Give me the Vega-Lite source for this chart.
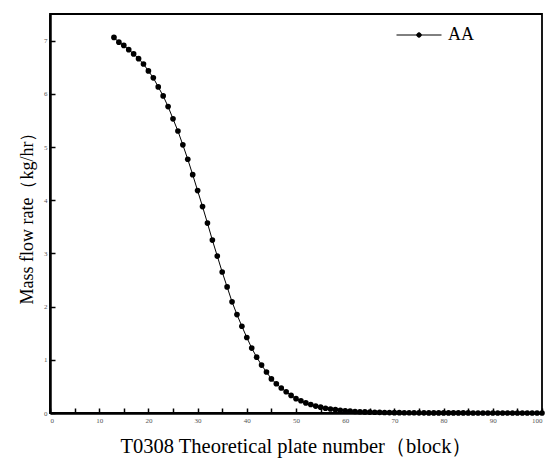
{
  "$schema": "https://vega.github.io/schema/vega-lite/v6.json",
  "width": 492,
  "height": 399,
  "autosize": {"type": "none"},
  "padding": {"left": 50, "top": 14, "right": 11, "bottom": 48},
  "background": "white",
  "config": {
    "font": "Liberation Serif",
    "view": {"stroke": "#000000", "strokeWidth": 1.8, "strokeOpacity": 1},
    "axis": {
      "grid": false,
      "labelColor": "#555555",
      "labelFont": "Liberation Serif",
      "labelFontSize": 7,
      "titleFont": "Liberation Serif",
      "titleFontWeight": "normal",
      "titleColor": "black",
      "titleFontSize": 18
    }
  },
  "data": {
    "values": [
      {"plate": 13, "flow": 7.06, "series": "AA"},
      {"plate": 14, "flow": 6.97, "series": "AA"},
      {"plate": 15, "flow": 6.91, "series": "AA"},
      {"plate": 16, "flow": 6.83, "series": "AA"},
      {"plate": 17, "flow": 6.75, "series": "AA"},
      {"plate": 18, "flow": 6.66, "series": "AA"},
      {"plate": 19, "flow": 6.56, "series": "AA"},
      {"plate": 20, "flow": 6.43, "series": "AA"},
      {"plate": 21, "flow": 6.30, "series": "AA"},
      {"plate": 22, "flow": 6.13, "series": "AA"},
      {"plate": 23, "flow": 5.96, "series": "AA"},
      {"plate": 24, "flow": 5.76, "series": "AA"},
      {"plate": 25, "flow": 5.53, "series": "AA"},
      {"plate": 26, "flow": 5.30, "series": "AA"},
      {"plate": 27, "flow": 5.04, "series": "AA"},
      {"plate": 28, "flow": 4.77, "series": "AA"},
      {"plate": 29, "flow": 4.48, "series": "AA"},
      {"plate": 30, "flow": 4.18, "series": "AA"},
      {"plate": 31, "flow": 3.88, "series": "AA"},
      {"plate": 32, "flow": 3.57, "series": "AA"},
      {"plate": 33, "flow": 3.25, "series": "AA"},
      {"plate": 34, "flow": 2.95, "series": "AA"},
      {"plate": 35, "flow": 2.65, "series": "AA"},
      {"plate": 36, "flow": 2.37, "series": "AA"},
      {"plate": 37, "flow": 2.09, "series": "AA"},
      {"plate": 38, "flow": 1.85, "series": "AA"},
      {"plate": 39, "flow": 1.63, "series": "AA"},
      {"plate": 40, "flow": 1.42, "series": "AA"},
      {"plate": 41, "flow": 1.22, "series": "AA"},
      {"plate": 42, "flow": 1.05, "series": "AA"},
      {"plate": 43, "flow": 0.90, "series": "AA"},
      {"plate": 44, "flow": 0.77, "series": "AA"},
      {"plate": 45, "flow": 0.64, "series": "AA"},
      {"plate": 46, "flow": 0.55, "series": "AA"},
      {"plate": 47, "flow": 0.47, "series": "AA"},
      {"plate": 48, "flow": 0.40, "series": "AA"},
      {"plate": 49, "flow": 0.33, "series": "AA"},
      {"plate": 50, "flow": 0.27, "series": "AA"},
      {"plate": 51, "flow": 0.23, "series": "AA"},
      {"plate": 52, "flow": 0.19, "series": "AA"},
      {"plate": 53, "flow": 0.16, "series": "AA"},
      {"plate": 54, "flow": 0.13, "series": "AA"},
      {"plate": 55, "flow": 0.11, "series": "AA"},
      {"plate": 56, "flow": 0.09, "series": "AA"},
      {"plate": 57, "flow": 0.075, "series": "AA"},
      {"plate": 58, "flow": 0.062, "series": "AA"},
      {"plate": 59, "flow": 0.05, "series": "AA"},
      {"plate": 60, "flow": 0.042, "series": "AA"},
      {"plate": 61, "flow": 0.035, "series": "AA"},
      {"plate": 62, "flow": 0.029, "series": "AA"},
      {"plate": 63, "flow": 0.024, "series": "AA"},
      {"plate": 64, "flow": 0.02, "series": "AA"},
      {"plate": 65, "flow": 0.017, "series": "AA"},
      {"plate": 66, "flow": 0.014, "series": "AA"},
      {"plate": 67, "flow": 0.012, "series": "AA"},
      {"plate": 68, "flow": 0.01, "series": "AA"},
      {"plate": 69, "flow": 0.008, "series": "AA"},
      {"plate": 70, "flow": 0.007, "series": "AA"},
      {"plate": 71, "flow": 0.006, "series": "AA"},
      {"plate": 72, "flow": 0.005, "series": "AA"},
      {"plate": 73, "flow": 0.004, "series": "AA"},
      {"plate": 74, "flow": 0.004, "series": "AA"},
      {"plate": 75, "flow": 0.003, "series": "AA"},
      {"plate": 76, "flow": 0.003, "series": "AA"},
      {"plate": 77, "flow": 0.002, "series": "AA"},
      {"plate": 78, "flow": 0.002, "series": "AA"},
      {"plate": 79, "flow": 0.002, "series": "AA"},
      {"plate": 80, "flow": 0.001, "series": "AA"},
      {"plate": 81, "flow": 0.001, "series": "AA"},
      {"plate": 82, "flow": 0.001, "series": "AA"},
      {"plate": 83, "flow": 0.001, "series": "AA"},
      {"plate": 84, "flow": 0.001, "series": "AA"},
      {"plate": 85, "flow": 0.001, "series": "AA"},
      {"plate": 86, "flow": 0.0, "series": "AA"},
      {"plate": 87, "flow": 0.0, "series": "AA"},
      {"plate": 88, "flow": 0.0, "series": "AA"},
      {"plate": 89, "flow": 0.0, "series": "AA"},
      {"plate": 90, "flow": 0.0, "series": "AA"},
      {"plate": 91, "flow": 0.0, "series": "AA"},
      {"plate": 92, "flow": 0.0, "series": "AA"},
      {"plate": 93, "flow": 0.0, "series": "AA"},
      {"plate": 94, "flow": 0.0, "series": "AA"},
      {"plate": 95, "flow": 0.0, "series": "AA"},
      {"plate": 96, "flow": 0.0, "series": "AA"},
      {"plate": 97, "flow": 0.0, "series": "AA"},
      {"plate": 98, "flow": 0.0, "series": "AA"},
      {"plate": 99, "flow": 0.0, "series": "AA"},
      {"plate": 100, "flow": 0.0, "series": "AA"}
    ]
  },
  "mark": {"type": "line", "color": "black", "strokeWidth": 1, "point": {"filled": true, "size": 32, "color": "black"}},
  "encoding": {
    "x": {
      "field": "plate", "type": "quantitative",
      "scale": {"domain": [0, 100], "nice": false},
      "axis": {
        "title": "T0308 Theoretical plate number（block）",
        "titleFontSize": 20.5,
        "values": [0, 5, 10, 15, 20, 25, 30, 35, 40, 45, 50, 55, 60, 65, 70, 75, 80, 85, 90, 95, 100],
        "labelExpr": "datum.value % 10 === 0 ? datum.label : ''",
        "domain": true,
        "domainColor": "#000000",
        "domainWidth": 2.5,
        "ticks": true,
        "tickColor": "#000000",
        "tickWidth": 1.5,
        "tickSize": -5,
        "zindex": 2,
        "labelPadding": 8,
        "titlePadding": 13
      }
    },
    "y": {
      "field": "flow", "type": "quantitative",
      "scale": {"domain": [0, 7.5], "nice": false},
      "axis": {
        "title": "Mass flow rate（kg/hr）",
        "values": [0, 0.5, 1, 1.5, 2, 2.5, 3, 3.5, 4, 4.5, 5, 5.5, 6, 6.5, 7],
        "format": "d",
        "labelExpr": "datum.value % 1 === 0 ? datum.label : ''",
        "domain": true,
        "domainColor": "#000000",
        "domainWidth": 2.5,
        "ticks": true,
        "tickColor": "#000000",
        "tickWidth": 1.5,
        "tickSize": -5,
        "zindex": 2,
        "labelPadding": 8,
        "titlePadding": 7
      }
    },
    "color": {
      "field": "series", "type": "nominal",
      "scale": {"range": ["black"]},
      "legend": {
        "title": null,
        "orient": "none",
        "legendX": 346,
        "legendY": -2,
        "symbolType": "M-1,0H1M-0.1,0A0.1,0.1,0,1,1,0.1,0A0.1,0.1,0,1,1,-0.1,0Z",
        "symbolSize": 2025,
        "symbolStrokeWidth": 1,
        "symbolFillColor": "black",
        "symbolStrokeColor": "black",
        "labelFontSize": 18,
        "labelFont": "Liberation Serif",
        "labelColor": "black",
        "labelOffset": 6
      }
    }
  }
}
